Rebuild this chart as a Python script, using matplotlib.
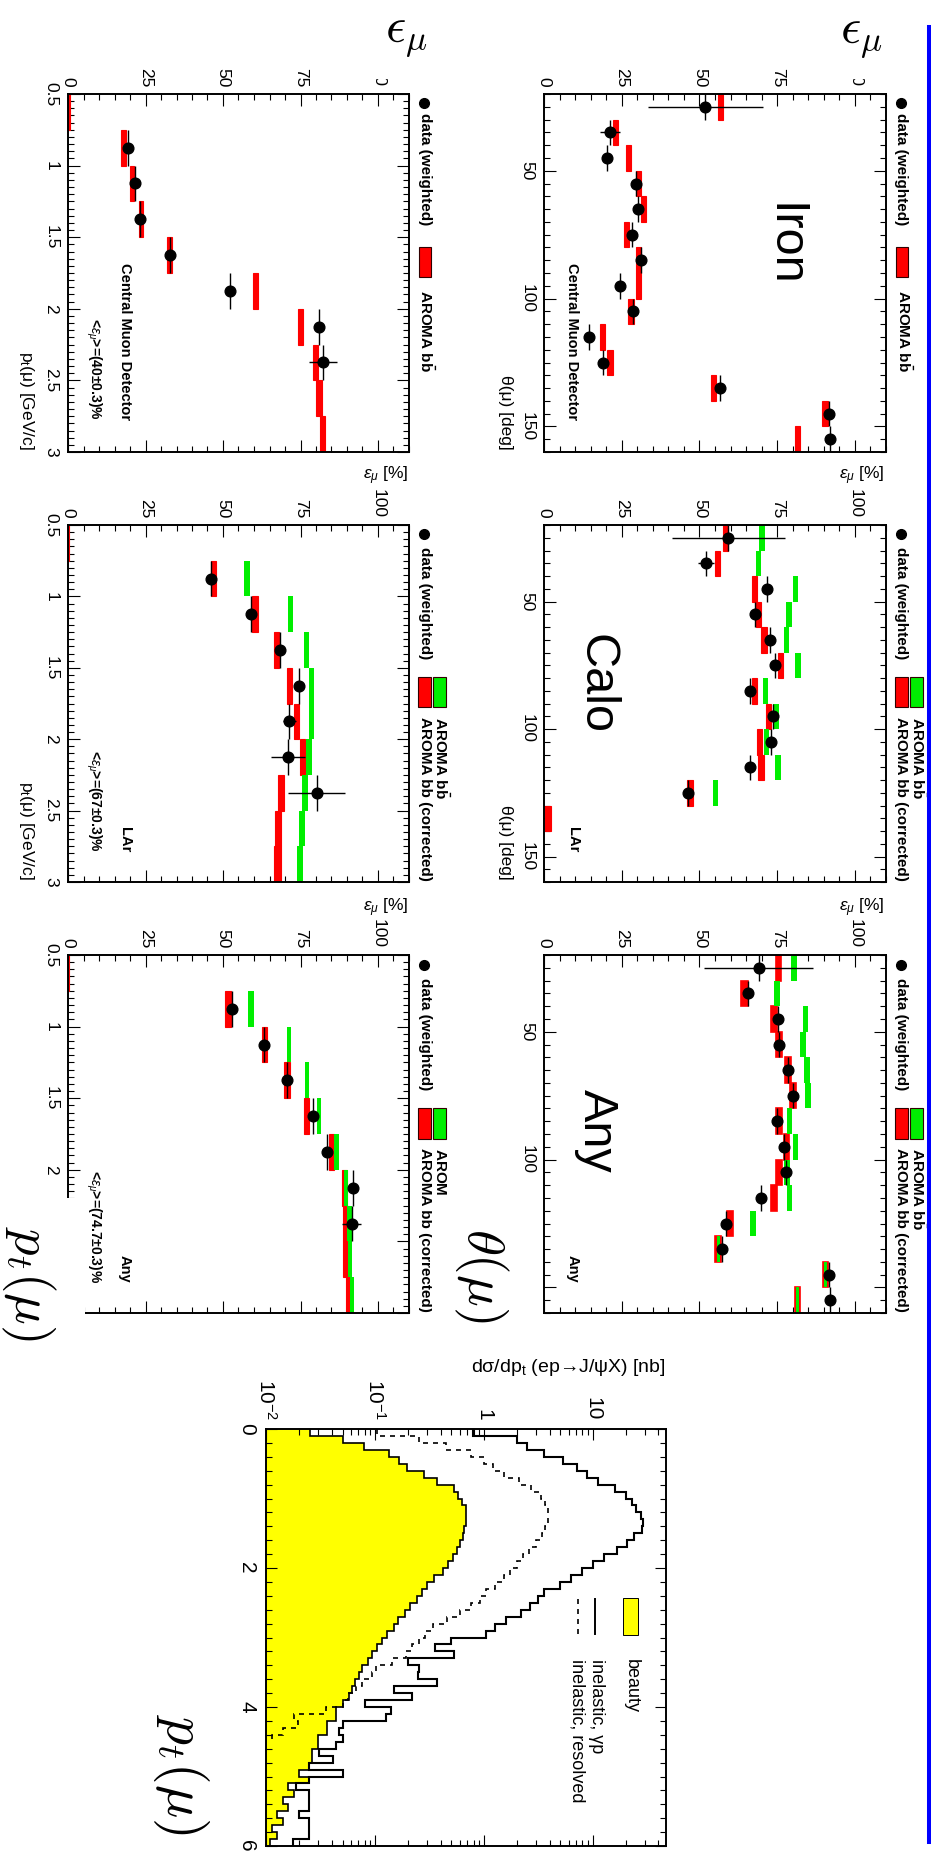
import numpy as np
import matplotlib
matplotlib.use("Agg")
import matplotlib.pyplot as plt
from matplotlib.patches import Rectangle
from matplotlib.lines import Line2D
from matplotlib.ticker import FixedLocator, FixedFormatter, MultipleLocator, LogLocator, NullFormatter

plt.rcParams['font.family'] = ['Liberation Sans', 'DejaVu Sans']
plt.rcParams['mathtext.fontset'] = 'custom'
plt.rcParams['mathtext.rm'] = 'Liberation Sans'
plt.rcParams['mathtext.it'] = 'Liberation Sans:italic'
plt.rcParams['mathtext.bf'] = 'Liberation Sans:bold'

nan = float('nan')
# ---------------- data ----------------
theta_edges = [20, 30, 40, 50, 60, 70, 80, 90, 100, 110, 120, 130, 140, 150, 160]
theta_centers = [25, 35, 45, 55, 65, 75, 85, 95, 105, 115, 125, 135, 145, 155]
pt_edges = [0.5, 0.75, 1.0, 1.25, 1.5, 1.75, 2.0, 2.25, 2.5, 2.75, 3.0]
pt_data_centers = [0.875, 1.125, 1.375, 1.625, 1.875, 2.125, 2.375]
theta_half = 5.0
pt_half = 0.125

theta_ticks = [50, 100, 150]
theta_labels = ['50', '100', '150']
pt_ticks = [0.5, 1, 1.5, 2, 2.5, 3]
pt_labels = ['0.5', '1', '1.5', '2', '2.5', '3']
eff_ticks = [0, 25, 50, 75, 100]
eff_labels = ['0', '25', '50', '75', '100']

# Iron (theta)
iron_eff = [51.8, 21.2, 20.4, 29.5, 30.1, 28.4, 31.1, 24.3, 28.6, 14.5, 19.0, 56.5, 91.6, 91.9]
iron_err = [18.5, 3.1, 1.2, 1.2, 1.2, 1.2, 1.2, 1.2, 1.2, 1.2, 1.2, 1.2, 1.2, 1.2]
iron_mc = [56.7, 23.0, 27.2, 30.4, 32.0, 26.6, 30.3, 30.3, 28.0, 18.8, 21.2, 54.5, 90.4, 81.5]
iron_mc_err = [0.85] * 14

# Calo (theta)
calo_eff = [59.3, 52.1, 71.7, 67.8, 72.8, 74.3, 66.4, 73.6, 73.1, 66.4, 46.3]
calo_err = [18.2, 2.6, 1.2, 1.2, 1.2, 1.2, 1.2, 1.2, 1.2, 1.2, 1.2]
calo_mc = [58.4, 55.7, 67.6, 69.0, 70.8, 76.1, 67.8, 72.1, 69.2, 69.8, 47.0, 1.3, nan, nan]
calo_mc_err = [0.85] * 14
calo_mc_corr = [70.2, 69.0, 80.9, 78.8, 78.0, 81.6, 71.3, 74.7, 71.6, 75.3, 55.2, nan, nan, nan]
calo_mc_corr_err = [0.9] * 14

# Any (theta)
anyth_eff = [69.1, 65.6, 75.2, 75.5, 78.5, 80.1, 74.9, 77.3, 77.9, 69.9, 58.6, 57.3, 91.8, 92.0]
anyth_err = [17.5, 1.3, 1.2, 1.2, 1.2, 1.2, 1.2, 1.2, 1.2, 1.2, 1.2, 1.2, 1.2, 1.2]
anyth_mc = [75.4, 64.5, 73.9, 75.7, 78.5, 80.1, 75.5, 78.0, 75.6, 73.9, 59.9, 56.0, 90.5, 81.6]
anyth_mc_err = [0.9, 1.0, 1.0, 1.0, 0.9, 0.9, 0.9, 0.95, 0.95, 0.95, 1.0, 1.0, 0.75, 0.8]
anyth_mc_corr = [80.4, 75.0, 84.1, 83.3, 84.6, 85.0, 79.0, 80.9, 78.2, 79.0, 67.2, 56.0, 90.5, 81.6]
anyth_mc_corr_err = [0.9, 0.9, 0.9, 0.9, 0.9, 0.9, 0.9, 0.9, 0.9, 0.9, 0.9, 0.5, 0.4, 0.45]

# Central Muon Detector (pt)
cmd_eff = [19.3, 21.6, 23.2, 32.9, 52.4, 81.0, 82.3]
cmd_err = [1.2, 1.2, 1.2, 1.2, 1.2, 1.2, 4.5]
cmd_mc = [0.0, 17.9, 20.6, 23.5, 32.7, 60.5, 75.1, 79.9, 81.0, 82.2]
cmd_mc_err = [0.5, 0.8, 0.75, 0.75, 0.8, 0.85, 0.8, 0.85, 0.85, 0.85]

# LAr (pt)
lar_eff = [46.0, 59.1, 68.5, 74.4, 71.4, 71.0, 80.2]
lar_err = [1.2, 1.2, 1.2, 1.2, 2.1, 5.4, 9.1]
lar_mc = [0.0, 47.0, 60.3, 67.3, 71.4, 73.8, 75.7, 68.6, 67.7, 67.5]
lar_mc_err = [0.4, 0.9, 0.9, 0.9, 0.85, 0.8, 0.9, 0.95, 0.95, 1.1]
lar_mc_corr = [0.0, 57.7, 71.8, 77.0, 78.6, 78.5, 77.8, 76.4, 75.4, 74.9]
lar_mc_corr_err = [0.4, 0.9, 0.85, 0.75, 0.8, 0.85, 0.9, 0.9, 1.0, 1.05]

# Any (pt)
anypt_eff = [52.9, 63.1, 70.6, 78.9, 83.6, 91.9, 91.5]
anypt_err = [1.2, 1.2, 1.2, 1.2, 1.2, 1.2, 3.0]
anypt_mc = [0.0, 51.6, 63.4, 70.7, 76.9, 85.1, 89.1, 89.7, 89.7, 90.4]
anypt_mc_err = [0.4, 0.9, 0.85, 0.9, 0.85, 0.75, 0.85, 0.95, 0.95, 0.8]
anypt_mc_corr = [0.0, 59.1, 71.4, 77.1, 80.9, 86.7, 89.7, 90.8, 91.0, 91.6]
anypt_mc_corr_err = [0.4, 0.9, 0.65, 0.7, 0.65, 0.8, 0.65, 0.7, 0.7, 0.65]

# d sigma / d pt histograms (log10 of nb), bins of 0.1 GeV from 0 to 6
hist_edges = np.linspace(0.0, 6.0, 61)
gp_log10 = [-0.10, 0.30, 0.39, 0.55, 0.73, 0.85, 0.95, 1.05, 1.20, 1.30,
            1.36, 1.40, 1.44, 1.46, 1.45, 1.38, 1.31, 1.22, 1.10, 1.00,
            0.90, 0.80, 0.70, 0.55, 0.50, 0.42, 0.34, 0.20, 0.10, 0.02,
            -0.30, -0.45, -0.28, -0.70, -0.60, -0.61, -0.43, -0.83, -0.66, -1.09,
            -0.86, -0.90, -1.30, -1.33, -1.30, -1.36, -1.52, -1.39, -1.61, -1.30,
            -1.61, -1.73, -1.61, -1.61, -1.61, -1.70, -1.61, -1.61, -1.61, -1.76]
beauty_log10 = [-1.60, -1.30, -1.10, -0.87, -0.78, -0.71, -0.55, -0.43, -0.28, -0.24,
                -0.20, -0.17, -0.165, -0.165, -0.18, -0.19, -0.22, -0.25, -0.29, -0.33,
                -0.38, -0.46, -0.52, -0.57, -0.62, -0.68, -0.73, -0.79, -0.83, -0.89,
                -0.94, -0.98, -1.03, -1.07, -1.12, -1.15, -1.19, -1.21, -1.24, -1.30,
                -1.36, -1.36, -1.44, -1.44, -1.53, -1.53, -1.58, -1.58, -1.61, -1.70,
                -1.61, -1.80, -1.75, -1.85, -1.80, -1.90, -1.85, -1.95, -1.90, -1.97]
resolved_log10 = [-0.98, -0.60, -0.35, -0.12, 0.00, 0.08, 0.18, 0.32, 0.43, 0.52,
                  0.56, 0.59, 0.59, 0.59, 0.56, 0.53, 0.48, 0.41, 0.36, 0.30,
                  0.24, 0.18, 0.10, 0.02, -0.04, -0.12, -0.22, -0.34, -0.47, -0.54,
                  -0.60, -0.66, -0.72, -0.85, -0.99, -1.03, -1.12, -1.18, -1.25, -1.30,
                  -1.45, -1.75, -1.71, -1.85, -1.95]
hist_x_ticks = [0.01, 0.1, 1, 10]
hist_x_labels = [r'$10^{-2}$', r'$10^{-1}$', '1', '10']
hist_y_ticks = [0, 2, 4, 6]
hist_y_labels = ['0', '2', '4', '6']

RED = '#ff0000'
GREEN = '#00ee00'

# ---------------- figure ----------------
W, H = 931, 1854
fig = plt.figure(figsize=(W / 100, H / 100), dpi=100, facecolor='white')


def rect(x0, y0, x1, y1):
    return [x0 / W, 1 - y1 / H, (x1 - x0) / W, (y1 - y0) / H]


def ftext(x, y, s, size, rot=270, ha='left', va='baseline', weight='normal', z=3, **kw):
    return fig.text(x / W, 1 - y / H, s, fontsize=size, rotation=rot, ha=ha, va=va,
                    fontweight=weight, rotation_mode='anchor', zorder=z, **kw)


def eff_axes(x0, y0, x1, y1, kind, hide_last=0):
    ax = fig.add_axes(rect(x0, y0, x1, y1))
    ax.set_xlim(0, 110)
    if kind == 'theta':
        ax.set_ylim(160, 20)
        ticks, labels = list(theta_ticks), list(theta_labels)
        ax.yaxis.set_minor_locator(MultipleLocator(5))
    else:
        ax.set_ylim(3.0, 0.5)
        ticks, labels = list(pt_ticks), list(pt_labels)
        ax.yaxis.set_minor_locator(MultipleLocator(0.05))
    if hide_last:
        labels = labels[:-hide_last] + [''] * hide_last
    ax.yaxis.set_major_locator(FixedLocator(ticks))
    ax.yaxis.set_major_formatter(FixedFormatter(labels))
    ax.xaxis.set_major_locator(FixedLocator(eff_ticks))
    ax.xaxis.set_major_formatter(FixedFormatter(eff_labels))
    ax.xaxis.set_minor_locator(MultipleLocator(5))
    ax.tick_params(which='both', direction='in', top=True, bottom=True, left=True, right=True,
                   labeltop=True, labelbottom=False, labelleft=True, labelright=False)
    ax.tick_params(which='major', length=8.5, width=0.8)
    ax.tick_params(which='minor', length=4.3, width=0.8)
    ax.tick_params(axis='x', labelrotation=270, labelsize=12.5, pad=5)
    ax.tick_params(axis='y', labelrotation=270, labelsize=12.5, pad=7)
    plt.setp(ax.get_yticklabels(), va='center')
    for s in ax.spines.values():
        s.set_linewidth(1.4)
    return ax


def draw_mc(ax, edges, vals, errs, color, lw=0.0, z=2):
    lo = np.array(edges[:-1], float)
    hi = np.array(edges[1:], float)
    v = np.array(vals, float)
    e = np.array(errs, float)
    ok = ~np.isnan(v)
    ax.barh((lo + hi)[ok] / 2, 2 * e[ok], height=(hi - lo)[ok], left=(v - e)[ok],
            color=color, edgecolor=color, linewidth=lw, zorder=z)


def draw_data(ax, eff, err, pos, half):
    ax.errorbar(eff, pos, xerr=err, yerr=half, fmt='o', color='k', ms=7.7,
                elinewidth=1.0, capsize=0, zorder=5)


# rows
rows = [(94, 452), (525, 882), (955, 1313)]
XR = (544, 886)
XL = (68, 409)

ax_iron = eff_axes(XR[0], rows[0][0], XR[1], rows[0][1], 'theta')
draw_mc(ax_iron, theta_edges, iron_mc, iron_mc_err, RED, lw=0.8)
draw_data(ax_iron, iron_eff, iron_err, theta_centers, theta_half)

ax_calo = eff_axes(XR[0], rows[1][0], XR[1], rows[1][1], 'theta')
draw_mc(ax_calo, theta_edges, calo_mc, calo_mc_err, RED, lw=0.8)
draw_mc(ax_calo, theta_edges, calo_mc_corr, calo_mc_corr_err, GREEN)
draw_data(ax_calo, calo_eff, calo_err, theta_centers[:len(calo_eff)], theta_half)

ax_anyth = eff_axes(XR[0], rows[2][0], XR[1], rows[2][1], 'theta', hide_last=1)
draw_mc(ax_anyth, theta_edges, anyth_mc, anyth_mc_err, RED, lw=1.2)
draw_mc(ax_anyth, theta_edges, anyth_mc_corr, anyth_mc_corr_err, GREEN)
draw_data(ax_anyth, anyth_eff, anyth_err, theta_centers, theta_half)

ax_cmd = eff_axes(XL[0], rows[0][0], XL[1], rows[0][1], 'pt')
draw_mc(ax_cmd, pt_edges, cmd_mc, cmd_mc_err, RED, lw=0.8)
draw_data(ax_cmd, cmd_eff, cmd_err, pt_data_centers, pt_half)

ax_lar = eff_axes(XL[0], rows[1][0], XL[1], rows[1][1], 'pt')
draw_mc(ax_lar, pt_edges, lar_mc, lar_mc_err, RED, lw=0.8)
draw_mc(ax_lar, pt_edges, lar_mc_corr, lar_mc_corr_err, GREEN)
draw_data(ax_lar, lar_eff, lar_err, pt_data_centers, pt_half)

ax_anypt = eff_axes(XL[0], rows[2][0], XL[1], rows[2][1], 'pt', hide_last=2)
draw_mc(ax_anypt, pt_edges, anypt_mc, anypt_mc_err, RED, lw=0.8)
draw_mc(ax_anypt, pt_edges, anypt_mc_corr, anypt_mc_corr_err, GREEN)
draw_data(ax_anypt, anypt_eff, anypt_err, pt_data_centers, pt_half)

# axis titles
for yb in (450, 880):
    ftext(501, yb, 'θ(μ) [deg]', 12.5, ha='right')
    ftext(22, yb, r'p$_{\mathrm{t}}$(μ) [GeV/c]', 12.5, ha='right')
for yb in (479, 911):
    ftext(884, yb, r'$\varepsilon_{\mu}$ [%]', 12.5, rot=0, ha='right')
    ftext(408, yb, r'$\varepsilon_{\mu}$ [%]', 12.5, rot=0, ha='right')

# big panel names
ftext(771, 245, 'Iron', 35, ha='center')
ftext(583, 684, 'Calo', 35, ha='center')
ftext(584, 1131, 'Any', 35, ha='center')

# small detector texts
for yb, name in ((420, 'Central Muon Detector'), (852, 'LAr'), (1283, 'Any')):
    ftext(568.5, yb, name, 10.5, ha='right', weight='bold')
    ftext(121, yb, name, 10.5, ha='right', weight='bold')
for yb, val in ((420, '40'), (852, '67'), (1283, '74.7')):
    ftext(90, yb, '<' + r'$\varepsilon_{\mu}$' + '>=(' + val + '±0.3)%', 10, ha='right', weight='bold')


# legends
def marker_at(x, y):
    fig.add_artist(Line2D([x / W], [1 - y / H], marker='o', ms=7, color='k',
                          transform=fig.transFigure, zorder=4))


def box_at(x0, y0, x1, y1, color):
    fig.add_artist(Rectangle((x0 / W, 1 - y1 / H), (x1 - x0) / W, (y1 - y0) / H,
                             facecolor=color, edgecolor='#300000', lw=0.8,
                             transform=fig.transFigure, zorder=4))


bb_label = r'AROMA $\mathbf{b\bar{b}}$'
corr_label = 'AROMA bb (corrected)'
leg_rows = [(103, 113, 247, 277, 290), (534, 547, 677, 707, 717), (965, 978, 1108, 1139, 1148)]
for col, (mx, bx) in enumerate(((901, 897.5), (424, 420.5))):
    for r, (my, ty, b0, b1, t2) in enumerate(leg_rows):
        marker_at(mx, my)
        ftext(bx, ty, 'data (weighted)', 11, weight='bold')
        if r == 0:
            box_at(bx - 1.5, b0, bx + 10.5, b1, RED)
            ftext(bx, t2, bb_label, 11, weight='bold')
        else:
            box_at(bx - 2.5, b0, bx + 10.5, b1, RED)
            box_at(bx + 12.5, b0, bx + 25.5, b1, GREEN)
            ftext(bx + 14.5, t2, bb_label, 11, weight='bold')
            ftext(bx, t2, corr_label, 11, weight='bold')

# ---------------- d sigma / d pt histogram ----------------
axh = fig.add_axes(rect(266, 1429, 666, 1846))
axh.set_xscale('log')
axh.set_xlim(0.0099, 47.0)
axh.set_ylim(6.0, 0.0)
gp = 10.0 ** np.array(gp_log10)
beauty = 10.0 ** np.array(beauty_log10)
resolved = 10.0 ** np.array(resolved_log10)
axh.stairs(beauty, hist_edges, orientation='horizontal', baseline=1e-4, fill=True,
           facecolor='#ffff00', edgecolor='none', zorder=1)
axh.stairs(beauty, hist_edges, orientation='horizontal', baseline=None, color='k', lw=1.2, zorder=2)
axh.stairs(resolved, hist_edges[:len(resolved) + 1], orientation='horizontal', baseline=None,
           color='k', lw=1.2, ls=(0, (3, 3)), zorder=3)
axh.stairs(gp, hist_edges, orientation='horizontal', baseline=None, color='k', lw=1.5, zorder=4)
axh.xaxis.set_major_locator(FixedLocator(hist_x_ticks))
axh.xaxis.set_major_formatter(FixedFormatter(hist_x_labels))
axh.xaxis.set_minor_locator(LogLocator(base=10, subs=(2, 3, 4, 5, 6, 7, 8, 9)))
axh.xaxis.set_minor_formatter(NullFormatter())
axh.yaxis.set_major_locator(FixedLocator(hist_y_ticks))
axh.yaxis.set_major_formatter(FixedFormatter(hist_y_labels))
axh.yaxis.set_minor_locator(MultipleLocator(0.2))
axh.tick_params(which='both', direction='in', top=True, bottom=True, left=True, right=True,
                labeltop=True, labelbottom=False, labelleft=True, labelright=False)
axh.tick_params(which='major', length=8, width=0.8)
axh.tick_params(which='minor', length=4.3, width=0.8)
axh.tick_params(axis='x', labelrotation=270, labelsize=15, pad=6)
axh.tick_params(axis='y', labelrotation=270, labelsize=15, pad=7)
plt.setp(axh.get_yticklabels(), va='center')
for s in axh.spines.values():
    s.set_linewidth(1.4)

ftext(666, 1372, 'dσ/dp$_{\\mathrm{t}}$ (ep→J/ψX) [nb]', 14, rot=0, ha='right')

# histogram legend
box_y0, box_y1 = 1598, 1635
fig.add_artist(Rectangle((623 / W, 1 - box_y1 / H), 15 / W, (box_y1 - box_y0) / H, facecolor='#ffff00',
                         edgecolor='k', lw=0.7, transform=fig.transFigure, zorder=4))
fig.add_artist(Line2D([595 / W] * 2, [1 - 1599 / H, 1 - 1634 / H], color='k', lw=1.4,
                      transform=fig.transFigure, zorder=4))
fig.add_artist(Line2D([578 / W] * 2, [1 - 1599 / H, 1 - 1634 / H], color='k', lw=1.2, ls=(0, (3, 3)),
                      transform=fig.transFigure, zorder=4))
ftext(627, 1659, 'beauty', 13)
ftext(592, 1659, 'inelastic, γp', 13)
ftext(573, 1659, 'inelastic, resolved', 13)


# ---------------- big labels with white backgrounds ----------------
def white(x0, y0, x1, y1):
    fig.add_artist(Rectangle((x0 / W, 1 - y1 / H), (x1 - x0) / W, (y1 - y0) / H, facecolor='white',
                             edgecolor='none', transform=fig.transFigure, zorder=20))


white(828, 0, 893, 79)
white(352, 0, 437, 79)
white(432, 1196, 540, 1338)
white(0, 1198, 84.5, 1345)

ftext(861, 37, r'$\epsilon_{\mu}$', 36, rot=0, ha='center', va='center', z=21, math_fontfamily='cm')
ftext(406, 36, r'$\epsilon_{\mu}$', 36, rot=0, ha='center', va='center', z=21, math_fontfamily='cm')
ftext(481, 1275, r'$\theta(\mu)$', 38, ha='center', va='center', z=21, math_fontfamily='cm')
ftext(28, 1283, r'$p_t(\mu)$', 38, ha='center', va='center', z=21, math_fontfamily='cm')
ftext(181, 1774, r'$p_t(\mu)$', 40, ha='center', va='center', z=21, math_fontfamily='cm')

# blue margin line
fig.add_artist(Line2D([929 / W] * 2, [1 - 27 / H, 1 - 1842 / H], color='#0000ff', lw=2.9,
                      transform=fig.transFigure, zorder=5))

fig.savefig('out.png', dpi=100, facecolor='white')
